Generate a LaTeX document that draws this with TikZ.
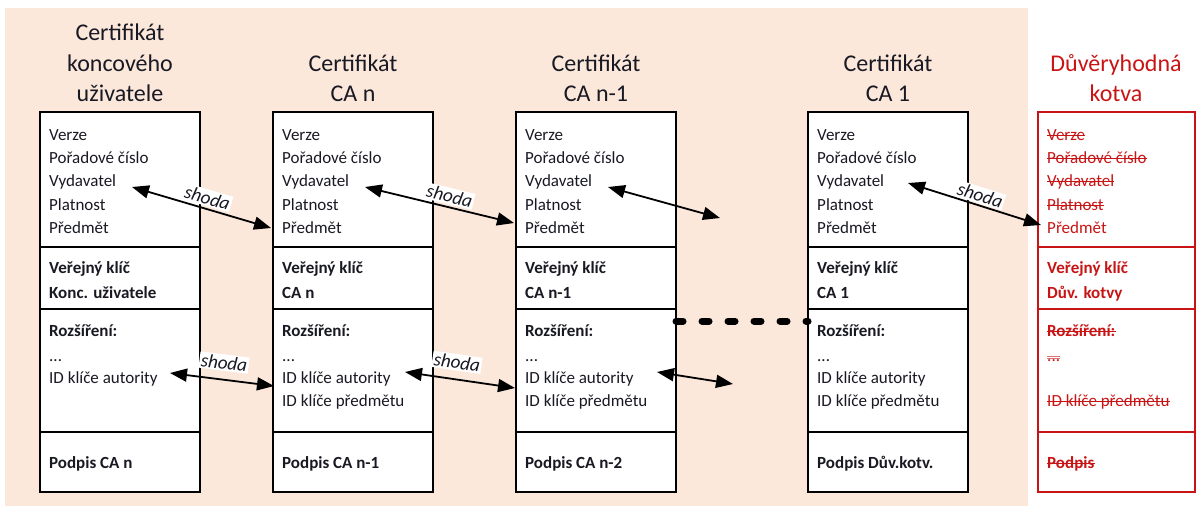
\documentclass[tikz,border=0pt]{standalone}
\usepackage{fontspec}
\setmainfont{Carlito}
\usetikzlibrary{arrows.meta}
\definecolor{peach}{RGB}{251,232,219}
\definecolor{anchorred}{RGB}{200,20,20}
\definecolor{ink}{RGB}{25,25,35}
\tikzset{
  sect/.style={draw, line width=1.6pt, fill=white, minimum width=160pt, anchor=north west, inner sep=0pt, outer sep=0pt},
  redsect/.style={sect, draw=anchorred, minimum width=157pt},
  txt/.style={anchor=base west, inner sep=0pt, text=ink, font=\fontsize{17}{20}\selectfont},
  btxt/.style={txt, font=\fontsize{17}{20}\selectfont\bfseries},
  rtxt/.style={txt, text=anchorred},
  rbtxt/.style={btxt, text=anchorred},
  ttl/.style={anchor=base, inner sep=0pt, text=ink, font=\fontsize{24}{30}\selectfont},
  rttl/.style={ttl, text=anchorred},
  dbl/.style={{Triangle[length=17pt,width=13pt]}-{Triangle[length=17pt,width=13pt]}, line width=1.8pt},
  lbl/.style={sloped, fill=white, inner sep=1.5pt, font=\fontsize{19}{19}\selectfont\itshape, text=ink},
  dotline/.style={line width=7pt, line cap=round, dash pattern=on 7pt off 19pt},
  strikeline/.style={draw=anchorred, line width=1.2pt},
  thinstrike/.style={draw=anchorred!60, line width=0.6pt},
}
\newcommand\mkcert[2]{%
  \node[sect, minimum height=135pt] (#1a) at (#2,112) {};
  \node[sect, minimum height=62pt] (#1b) at (#2,247) {};
  \node[sect, minimum height=123pt] (#1c) at (#2,309) {};
  \node[sect, minimum height=60pt] (#1d) at (#2,432) {};
  \node[txt] (#1l1) at (#2+9,140) {Verze};
  \node[txt] (#1l2) at (#2+9,163) {Pořadové číslo};
  \node[txt] (#1l3) at (#2+9,186) {Vydavatel};
  \node[txt] (#1l4) at (#2+9,210) {Platnost};
  \node[txt] (#1l5) at (#2+9,233) {Předmět};
  \node[btxt] (#1r) at (#2+9,336) {Rozšíření:};
  \node[txt] (#1e) at (#2+9,361) {...};
  \node[txt] (#1k) at (#2+9,383) {ID klíče autority};
}
\newcommand\strike[1]{\draw[strikeline] ([yshift=4.5pt]#1.base west) -- ([yshift=4.5pt]#1.base east);}
\begin{document}
\begin{tikzpicture}[x=1pt,y=-1pt]
\useasboundingbox (0,0) rectangle (1198,508);
\fill[peach] (5,8) rectangle (1028,506);

% titles
\node[ttl] (h1a) at (120,41) {Certifikát};
\node[ttl] (h1b) at (120,72) {koncového};
\node[ttl] (h1c) at (120,102) {uživatele};
\node[ttl] (h2a) at (353,72) {Certifikát};
\node[ttl] (h2b) at (353,102) {CA n};
\node[ttl] (h3a) at (596,72) {Certifikát};
\node[ttl] (h3b) at (596,102) {CA n-1};
\node[ttl] (h4a) at (888,72) {Certifikát};
\node[ttl] (h4b) at (888,102) {CA 1};
\node[rttl] (h5a) at (1116,72) {Důvěryhodná};
\node[rttl] (h5b) at (1116,102) {kotva};

% certificates
\mkcert{c1}{40}
\node[btxt] at (49,273) {Veřejný klíč};
\node[btxt] at (49,298) {Konc. uživatele};
\node[btxt] at (49,468) {Podpis CA n};

\mkcert{c2}{273}
\node[btxt] at (282,273) {Veřejný klíč};
\node[btxt] at (282,298) {CA n};
\node[txt] (c2p) at (282,406) {ID klíče předmětu};
\node[btxt] at (282,468) {Podpis CA n-1};

\mkcert{c3}{516}
\node[btxt] at (525,273) {Veřejný klíč};
\node[btxt] at (525,298) {CA n-1};
\node[txt] (c3p) at (525,406) {ID klíče předmětu};
\node[btxt] at (525,468) {Podpis CA n-2};

\mkcert{c4}{808}
\node[btxt] at (817,273) {Veřejný klíč};
\node[btxt] at (817,298) {CA 1};
\node[txt] (c4p) at (817,406) {ID klíče předmětu};
\node[btxt] at (817,468) {Podpis Dův.kotv.};

% trust anchor
\node[redsect, minimum height=135pt] (c5a) at (1038,112) {};
\node[redsect, minimum height=62pt] (c5b) at (1038,247) {};
\node[redsect, minimum height=123pt] (c5c) at (1038,309) {};
\node[redsect, minimum height=60pt] (c5d) at (1038,432) {};
\node[rtxt] (c5l1) at (1047,140) {Verze};
\node[rtxt] (c5l2) at (1047,163) {Pořadové číslo};
\node[rtxt] (c5l3) at (1047,186) {Vydavatel};
\node[rtxt] (c5l4) at (1047,210) {Platnost};
\node[rtxt] (c5l5) at (1047,233) {Předmět};
\node[rbtxt] (c5k1) at (1047,273) {Veřejný klíč};
\node[rbtxt] (c5k2) at (1047,298) {Dův. kotvy};
\node[rbtxt] (c5r) at (1047,336) {Rozšíření:};
\node[rtxt] (c5e) at (1047,361) {...};
\node[rtxt] (c5p) at (1047,406) {ID klíče předmětu};
\node[rbtxt] (c5s) at (1047,468) {Podpis};
\strike{c5l1}\strike{c5l2}\strike{c5l3}\strike{c5l4}
\strike{c5r}\strike{c5p}\strike{c5s}
\draw[thinstrike] ([yshift=3pt]c5e.base west) -- ([yshift=3pt]c5e.base east);
\draw[thinstrike] ([yshift=5pt]c5e.base west) -- ([yshift=5pt]c5e.base east);

% arrow end points
\coordinate (a1s) at (132,187);  \coordinate (a1e) at (271,228);
\coordinate (a2s) at (365,187);  \coordinate (a2e) at (514,223);
\coordinate (a3s) at (608,187);  \coordinate (a3e) at (720,218);
\coordinate (a4s) at (908,183);  \coordinate (a4e) at (1041,225);
\coordinate (a5s) at (170,373);  \coordinate (a5e) at (274,386);
\coordinate (a6s) at (405,372);  \coordinate (a6e) at (515,388);
\coordinate (a7s) at (657,372);  \coordinate (a7e) at (733,384);

\draw[dbl] (a1s) -- node[lbl, above=2pt, pos=0.52] (s1) {shoda} (a1e);
\draw[dbl] (a2s) -- node[lbl, above=2pt, pos=0.55] (s2) {shoda} (a2e);
\draw[dbl] (a3s) -- (a3e);
\draw[dbl] (a4s) -- node[lbl, above=1pt, pos=0.52] (s4) {shoda} (a4e);
\draw[dbl] (a5s) -- node[lbl, above=8pt, pos=0.5] (s5) {shoda} (a5e);
\draw[dbl] (a6s) -- node[lbl, above=8pt, pos=0.45] (s6) {shoda} (a6e);
\draw[dbl] (a7s) -- (a7e);

% dotted continuation
\draw[dotline] (c3c.east |- 0,321) -- (c4c.west |- 0,321);
\end{tikzpicture}
\end{document}
